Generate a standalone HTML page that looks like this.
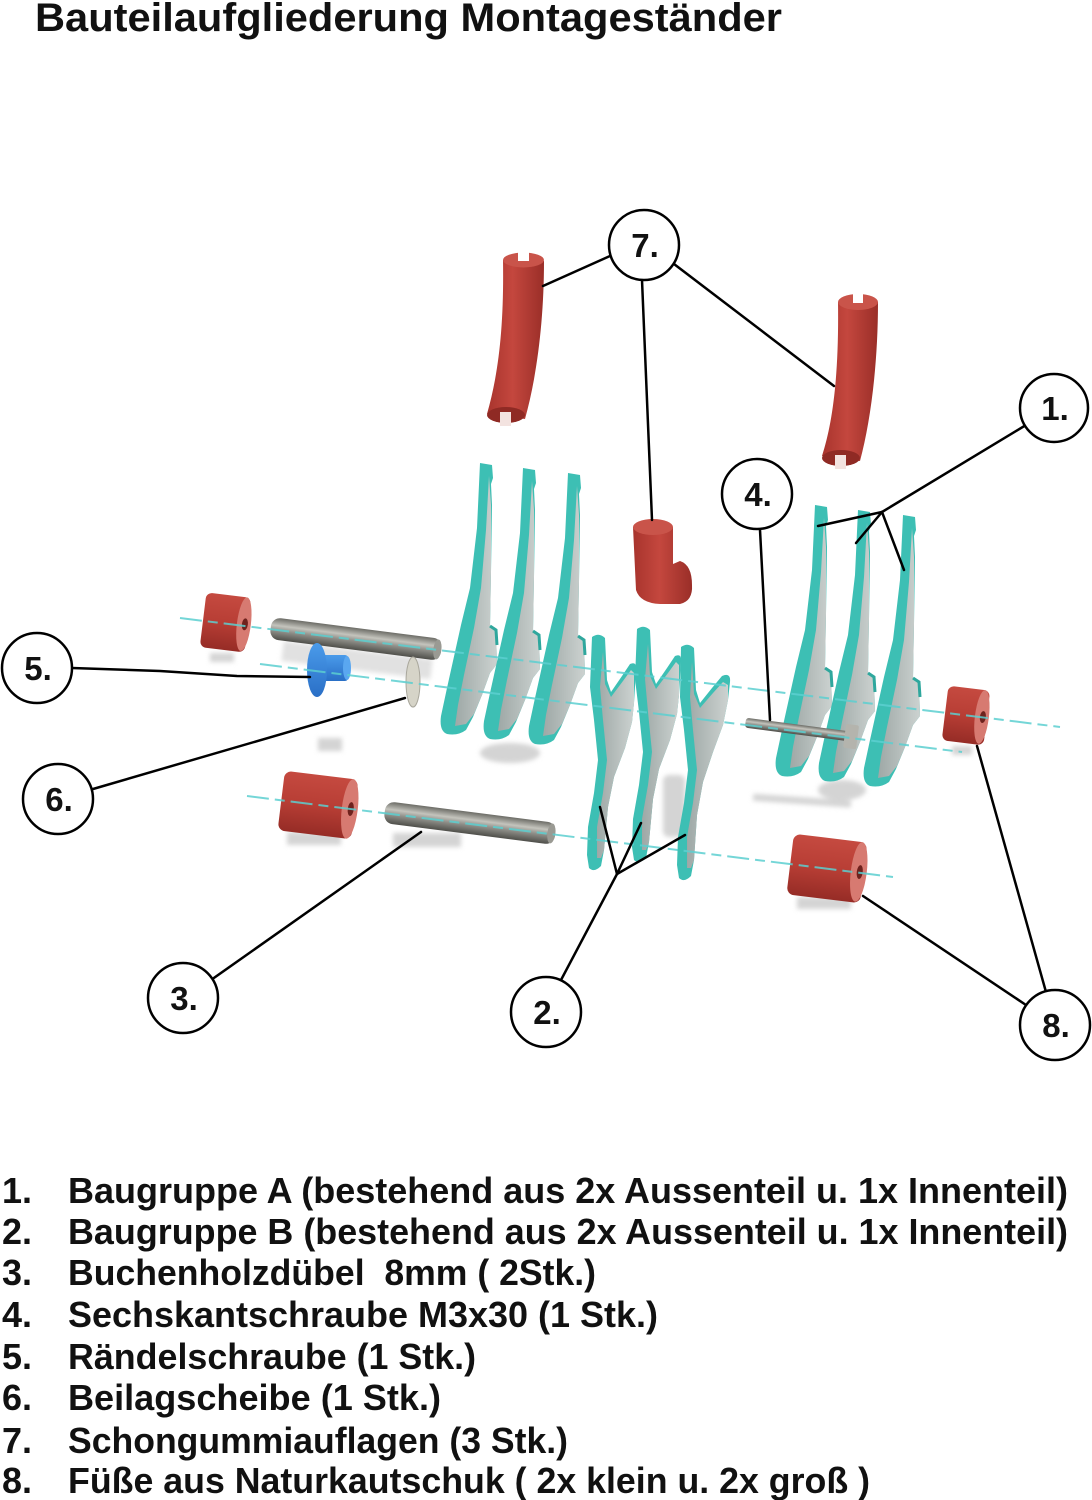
<!DOCTYPE html>
<html>
<head>
<meta charset="utf-8">
<style>
  html,body{margin:0;padding:0;background:#fff;}
  svg{display:block;}
  .t{font-family:"Liberation Sans",Arial,sans-serif;font-weight:bold;fill:#111;white-space:pre;}
  .lbl{font-family:"Liberation Sans",Arial,sans-serif;font-weight:bold;font-size:33px;fill:#111;text-anchor:middle;}
</style>
</head>
<body>
<svg width="1092" height="1500" viewBox="0 0 1092 1500" xmlns="http://www.w3.org/2000/svg">
  <defs>
    <filter id="blur" x="-50%" y="-50%" width="200%" height="200%"><feGaussianBlur stdDeviation="2.5"/></filter>
    <linearGradient id="face" x1="0" y1="0" x2="1" y2="0">
      <stop offset="0" stop-color="#9ea8a6"/>
      <stop offset="1" stop-color="#ccd2d0"/>
    </linearGradient>
    <linearGradient id="red" x1="0" y1="0" x2="1" y2="0">
      <stop offset="0" stop-color="#a8342d"/>
      <stop offset="0.45" stop-color="#c4473e"/>
      <stop offset="1" stop-color="#9a2e28"/>
    </linearGradient>
    <linearGradient id="redv" x1="0" y1="0" x2="0" y2="1">
      <stop offset="0" stop-color="#c54a40"/>
      <stop offset="0.5" stop-color="#b83e35"/>
      <stop offset="1" stop-color="#962c26"/>
    </linearGradient>
    <linearGradient id="steel" x1="0" y1="0" x2="0" y2="1">
      <stop offset="0" stop-color="#6c6c66"/>
      <stop offset="0.35" stop-color="#c4c4bd"/>
      <stop offset="0.6" stop-color="#8e8e88"/>
      <stop offset="1" stop-color="#4f4f4a"/>
    </linearGradient>
    <linearGradient id="blue" x1="0" y1="0" x2="0" y2="1">
      <stop offset="0" stop-color="#4a9bea"/>
      <stop offset="1" stop-color="#2a6fc6"/>
    </linearGradient>
  </defs>

  <!-- Title -->
  <text class="t" x="35" y="31" font-size="40" textLength="747" lengthAdjust="spacingAndGlyphs">Bauteilaufgliederung Montageständer</text>

  <!-- Shadows -->
  <g fill="#d4d4d4" filter="url(#blur)">
    <rect x="282" y="650" width="150" height="20" transform="rotate(7 356 660)" opacity="0.7"/>
    <rect x="318" y="738" width="24" height="13"/>
    <rect x="210" y="653" width="24" height="9"/>
    <rect x="287" y="832" width="54" height="13"/>
    <rect x="393" y="833" width="68" height="14"/>
    <ellipse cx="510" cy="753" rx="30" ry="10"/>
    <rect x="663" y="775" width="22" height="62" rx="6"/>
    <rect x="753" y="797" width="98" height="7" transform="rotate(4 800 800)"/>
    <ellipse cx="842" cy="790" rx="24" ry="10"/>
    <rect x="797" y="897" width="54" height="12"/>
    <rect x="952" y="746" width="20" height="9"/>
  </g>

  <!-- Red rubber tubes (7) -->
  <g>
    <path d="M503,260 C504,325 499,372 487,414 L525,419 C537,376 544,320 544,261 Z" fill="url(#red)"/>
    <ellipse cx="506" cy="415" rx="19" ry="8" fill="#8f2a24"/>
    <rect x="500" y="412" width="11" height="14" fill="#f3e3e0"/>
    <ellipse cx="523.5" cy="260" rx="20.5" ry="7.5" fill="#c9544a"/>
    <rect x="518" y="252" width="11" height="9" fill="#fff"/>
    <path d="M838,302 C839,374 833,422 822,456 L860,461 C871,420 878,362 878,302 Z" fill="url(#red)"/>
    <ellipse cx="841" cy="458" rx="19" ry="8" fill="#8f2a24"/>
    <rect x="835" y="455" width="11" height="14" fill="#f3e3e0"/>
    <ellipse cx="858" cy="302" rx="20" ry="8" fill="#c9544a"/>
    <rect x="853" y="294" width="10" height="9" fill="#fff"/>
    <!-- small pad -->
    <path d="M633,527 L636,590 Q640,603 660,604 L680,604 Q693,601 692,585 Q692,565 680,561 L673,564 L673,527 Z" fill="url(#red)"/>
    <ellipse cx="653" cy="527" rx="20" ry="8" fill="#c9544a"/>
  </g>

  <!-- Plate template -->
  <g id="pl">
    <path d="M480,463 L492,465 L493,478 L491,484 L492,505 L491,572 L490,626 L496,630 L497,664 L490,673 L482,695 L473,717 L466,730 Q458,736 447,734 Q439,731 441,716 L447,688 L461,625 L470,588 L477,528 Z" fill="#3dbfb4"/>
    <path d="M489,476 L491,505 L491,572 L490,626 L496,630 L497,664 L490,673 L482,695 L474,714 L466,724 L455,726 L458,705 L464,675 L474,628 L481,588 L486,530 Z" fill="url(#face)"/>
    <path d="M490,626 L496,630 L497,645" stroke="#2fa79d" stroke-width="3" fill="none"/>
  </g>
  <g transform="translate(43,5)"><use href="#pl"/></g>
  <g transform="translate(88,10)"><use href="#pl"/></g>
  <g transform="translate(335,42)"><use href="#pl"/></g>
  <g transform="translate(378,47)"><use href="#pl"/></g>
  <g transform="translate(423,52)"><use href="#pl"/></g>

  <!-- Middle plate group (2.) -->
  <g id="pm">
    <path d="M592,637 Q599,632 605,638 L607,680 L611,692 L622,676 L630,664 Q637,661 636,670 L634,703 L632,722 L625,748 L614,777 L608,807 L604,850 L601,866 Q594,873 589,868 L587,855 L588,827 L594,793 L598,760 L594,720 L590,687 Z" fill="#3dbfb4"/>
    <path d="M603,652 L605,684 L611,697 L623,681 L631,670 L634,673 L634,703 L632,722 L625,748 L614,777 L608,807 L604,850 L601,858 L597,858 L597,827 L603,793 L607,760 L603,720 L600,687 Z" fill="url(#face)"/>
  </g>
  <g transform="translate(45,-8)"><use href="#pm"/></g>
  <path d="M681,647 Q688,642 694,648 L696,690 L700,703 L712,688 L722,676 Q731,672 730,682 L728,700 L723,725 L713,752 L703,782 L697,815 L694,860 L691,876 Q684,883 679,878 L677,865 L678,837 L684,803 L688,770 L684,730 L680,697 Z" fill="#3dbfb4"/>
  <path d="M692,662 L694,694 L700,708 L713,693 L723,682 L728,685 L728,700 L723,725 L713,752 L703,782 L697,815 L694,860 L691,868 L687,868 L687,837 L693,803 L697,770 L693,730 L690,697 Z" fill="url(#face)"/>

  <!-- Red feet (8) -->
  <g transform="rotate(7 226 622)">
    <rect x="203" y="595" width="45" height="55" rx="6" fill="url(#redv)"/>
    <ellipse cx="244" cy="622" rx="7" ry="27" fill="#d77a71"/>
    <ellipse cx="245" cy="622" rx="3" ry="6" fill="#6e221d"/>
  </g>
  <g transform="rotate(7 318 805)">
    <rect x="281" y="775" width="74" height="60" rx="7" fill="url(#redv)"/>
    <ellipse cx="350" cy="805" rx="8" ry="30" fill="#d77a71"/>
    <ellipse cx="351" cy="805" rx="3" ry="7" fill="#6e221d"/>
  </g>
  <g transform="rotate(7 966 715)">
    <rect x="945" y="688" width="42" height="55" rx="6" fill="url(#redv)"/>
    <ellipse cx="982" cy="715" rx="7" ry="27" fill="#d77a71"/>
    <ellipse cx="983" cy="715" rx="3" ry="6" fill="#6e221d"/>
  </g>
  <g transform="rotate(7 827 868)">
    <rect x="790" y="838" width="74" height="61" rx="7" fill="url(#redv)"/>
    <ellipse cx="859" cy="868" rx="8" ry="30" fill="#d77a71"/>
    <ellipse cx="860" cy="868" rx="3" ry="7" fill="#6e221d"/>
  </g>

  <!-- Dowels (3) -->
  <g transform="rotate(7.3 356 639)">
    <rect x="270" y="628" width="172" height="22" rx="9" fill="url(#steel)"/>
    <ellipse cx="438" cy="639" rx="4" ry="10" fill="#9a9a93"/>
  </g>
  <g transform="rotate(7.3 470 823)">
    <rect x="384" y="812" width="172" height="22" rx="9" fill="url(#steel)"/>
    <ellipse cx="552" cy="823" rx="4" ry="10" fill="#9a9a93"/>
  </g>

  <!-- Bolt (4) -->
  <g transform="rotate(7.5 801 730)">
    <rect x="745" y="725" width="112" height="10" rx="3" fill="url(#steel)"/>
    <rect x="845" y="718" width="13" height="24" rx="2" fill="#b4b4ad"/>
  </g>

  <!-- Knurled screw (5) -->
  <rect x="320" y="655" width="28" height="26" rx="3" fill="url(#blue)"/>
  <ellipse cx="347" cy="668" rx="4" ry="12" fill="#5aa7f0"/>
  <ellipse cx="317" cy="670" rx="10" ry="27" fill="url(#blue)"/>

  <!-- Washer (6) -->
  <ellipse cx="413" cy="682" rx="7" ry="25" fill="#d6d4c8" stroke="#a9a79c" stroke-width="1"/>

  <!-- Axis lines -->
  <g stroke="#5ccfd0" stroke-width="2" fill="none" opacity="0.85" stroke-dasharray="22 6 10 6">
    <line x1="180" y1="618" x2="1060" y2="727"/>
    <line x1="260" y1="664" x2="962" y2="752"/>
    <line x1="247" y1="796" x2="893" y2="877"/>
  </g>

  <!-- Leader lines -->
  <g stroke="#000" stroke-width="2.5" fill="none" stroke-linecap="round" stroke-linejoin="round">
    <line x1="610" y1="256" x2="543" y2="286"/>
    <line x1="642" y1="280" x2="652" y2="520"/>
    <line x1="674" y1="264" x2="834" y2="386"/>
    <line x1="1026" y1="425" x2="882" y2="512"/>
    <line x1="882" y1="512" x2="818" y2="526"/>
    <line x1="882" y1="512" x2="856" y2="543"/>
    <line x1="882" y1="512" x2="904" y2="570"/>
    <line x1="760" y1="530" x2="770" y2="720"/>
    <polyline points="72,668 160,671 237,676 310,677"/>
    <line x1="93" y1="789" x2="405" y2="698"/>
    <line x1="211" y1="980" x2="421" y2="832"/>
    <line x1="561" y1="980" x2="617" y2="874"/>
    <line x1="617" y1="874" x2="600" y2="807"/>
    <line x1="617" y1="874" x2="641" y2="823"/>
    <line x1="617" y1="874" x2="685" y2="835"/>
    <line x1="1046" y1="992" x2="977" y2="746"/>
    <line x1="1026" y1="1005" x2="863" y2="896"/>
  </g>

  <!-- Callout circles -->
  <g fill="#fff" stroke="#000" stroke-width="2.5">
    <circle cx="644" cy="245" r="35"/>
    <circle cx="1054" cy="408" r="34"/>
    <circle cx="757" cy="494" r="35"/>
    <circle cx="37" cy="668" r="35"/>
    <circle cx="58" cy="799" r="35"/>
    <circle cx="183" cy="998" r="35"/>
    <circle cx="546" cy="1012" r="35"/>
    <circle cx="1055" cy="1025" r="35"/>
  </g>
  <g>
    <text class="lbl" x="645" y="257">7.</text>
    <text class="lbl" x="1055" y="420">1.</text>
    <text class="lbl" x="758" y="506">4.</text>
    <text class="lbl" x="38" y="680">5.</text>
    <text class="lbl" x="59" y="811">6.</text>
    <text class="lbl" x="184" y="1010">3.</text>
    <text class="lbl" x="547" y="1024">2.</text>
    <text class="lbl" x="1056" y="1037">8.</text>
  </g>

  <!-- Parts list -->
  <g>
    <text class="t" x="2" y="1203" font-size="36">1.</text>
    <text class="t" x="68" y="1203" font-size="36" textLength="1000" lengthAdjust="spacingAndGlyphs">Baugruppe A (bestehend aus 2x Aussenteil u. 1x Innenteil)</text>
    <text class="t" x="2" y="1244" font-size="36">2.</text>
    <text class="t" x="68" y="1244" font-size="36" textLength="1000" lengthAdjust="spacingAndGlyphs">Baugruppe B (bestehend aus 2x Aussenteil u. 1x Innenteil)</text>
    <text class="t" x="2" y="1285" font-size="36">3.</text>
    <text class="t" x="68" y="1285" font-size="36" textLength="528" lengthAdjust="spacingAndGlyphs">Buchenholzdübel  8mm ( 2Stk.)</text>
    <text class="t" x="2" y="1327" font-size="36">4.</text>
    <text class="t" x="68" y="1327" font-size="36" textLength="590" lengthAdjust="spacingAndGlyphs">Sechskantschraube M3x30 (1 Stk.)</text>
    <text class="t" x="2" y="1369" font-size="36">5.</text>
    <text class="t" x="68" y="1369" font-size="36" textLength="408" lengthAdjust="spacingAndGlyphs">Rändelschraube (1 Stk.)</text>
    <text class="t" x="2" y="1410" font-size="36">6.</text>
    <text class="t" x="68" y="1410" font-size="36" textLength="373" lengthAdjust="spacingAndGlyphs">Beilagscheibe (1 Stk.)</text>
    <text class="t" x="2" y="1453" font-size="36">7.</text>
    <text class="t" x="68" y="1453" font-size="36" textLength="500" lengthAdjust="spacingAndGlyphs">Schongummiauflagen (3 Stk.)</text>
    <text class="t" x="2" y="1493" font-size="36">8.</text>
    <text class="t" x="68" y="1493" font-size="36" textLength="802" lengthAdjust="spacingAndGlyphs">Füße aus Naturkautschuk ( 2x klein u. 2x groß )</text>
  </g>
</svg>
</body>
</html>
